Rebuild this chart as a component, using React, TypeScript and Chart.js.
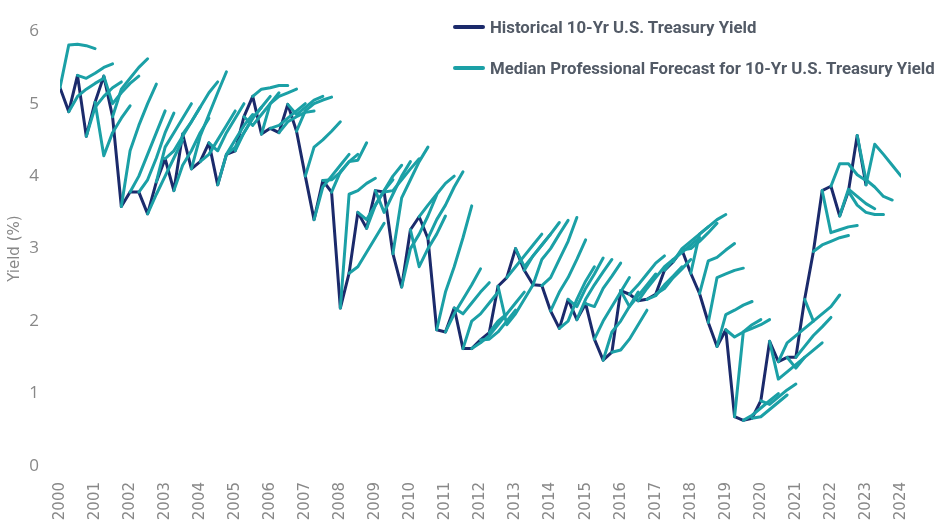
import React, { useEffect, useRef } from "react";
import { Chart, registerables } from "chart.js";

Chart.register(...registerables);

// First historical point is plotted at START_YEAR, one point per quarter.
const START_YEAR = 2000;
const QUARTER_STEP = 0.25;

// Historical 10-Yr U.S. Treasury yield (%), quarterly
const histValues: number[] = [
  5.22, 4.89, 5.39, 4.55, 5.02, 5.38, 4.82, 3.58, 3.78, 3.78,
  3.48, 3.92, 4.24, 3.8, 4.58, 4.1, 4.2, 4.46, 3.88, 4.3,
  4.35, 4.82, 5.1, 4.58, 4.66, 4.6, 4.99, 4.62, 4.0, 3.4,
  3.94, 3.78, 2.18, 2.66, 3.5, 3.28, 3.8, 3.78, 2.93, 2.47,
  3.26, 3.44, 3.14, 1.88, 1.85, 2.18, 1.62, 1.62, 1.74, 1.84,
  2.48, 2.6, 3.0, 2.7, 2.5, 2.49, 2.14, 1.9, 2.3, 2.02,
  2.24, 1.75, 1.46, 1.57, 2.42, 2.37, 2.28, 2.3, 2.37, 2.7,
  2.82, 2.98, 2.66, 2.38, 1.98, 1.65, 1.88, 0.68, 0.63, 0.66,
  0.9, 1.72, 1.44, 1.5, 1.5, 2.3, 2.96, 3.8, 3.86, 3.45,
  3.79, 4.56, 3.88,
];

// Median professional forecasts: row i starts at histValues[i] and
// gives the forecasts for the next four quarters.
const forecastValues: number[][] = [
  [5.81, 5.82, 5.8, 5.76],
  [5.1, 5.2, 5.28, 5.35],
  [5.35, 5.42, 5.5, 5.55],
  [4.95, 5.1, 5.22, 5.3],
  [4.28, 4.6, 4.8, 4.97],
  [5.0, 5.15, 5.28, 5.38],
  [5.2, 5.35, 5.5, 5.62],
  [4.35, 4.7, 5.0, 5.27],
  [4.0, 4.3, 4.6, 4.9],
  [3.95, 4.25, 4.6, 4.87],
  [3.75, 4.0, 4.25, 4.5],
  [4.4, 4.6, 4.8, 5.0],
  [4.35, 4.55, 4.75, 4.95],
  [4.15, 4.35, 4.6, 4.8],
  [4.75, 4.95, 5.15, 5.3],
  [4.55, 4.85, 5.15, 5.44],
  [4.3, 4.5, 4.7, 4.9],
  [4.35, 4.6, 4.8, 5.0],
  [4.3, 4.5, 4.7, 4.85],
  [4.4, 4.6, 4.8, 4.95],
  [4.6, 4.8, 4.95, 5.1],
  [4.7, 4.85, 5.0, 5.15],
  [5.2, 5.22, 5.25, 5.25],
  [5.0, 5.1, 5.15, 5.2],
  [4.7, 4.8, 4.9, 5.0],
  [4.75, 4.82, 4.88, 4.9],
  [4.85, 4.95, 5.05, 5.1],
  [4.9, 5.0, 5.05, 5.09],
  [4.4, 4.5, 4.62, 4.75],
  [3.85, 4.0, 4.15, 4.3],
  [3.95, 4.05, 4.2, 4.3],
  [4.06, 4.2, 4.22, 4.46],
  [3.75, 3.8, 3.9, 3.97],
  [2.75, 2.95, 3.15, 3.35],
  [3.4, 3.6, 3.8, 3.95],
  [3.6, 3.8, 4.0, 4.15],
  [3.5, 3.75, 4.0, 4.2],
  [3.8, 3.95, 4.1, 4.24],
  [3.7, 3.95, 4.2, 4.4],
  [3.0, 3.2, 3.45, 3.74],
  [2.75, 3.0, 3.2, 3.45],
  [3.6, 3.75, 3.9, 4.0],
  [3.4, 3.6, 3.85, 4.06],
  [2.4, 2.75, 3.15, 3.59],
  [2.1, 2.3, 2.5, 2.72],
  [2.1, 2.25, 2.4, 2.53],
  [2.0, 2.1, 2.25, 2.4],
  [1.7, 1.8, 1.95, 2.1],
  [1.75, 1.85, 2.0, 2.15],
  [2.0, 2.1, 2.25, 2.4],
  [1.95, 2.1, 2.3, 2.5],
  [2.75, 2.9, 3.05, 3.2],
  [2.75, 2.9, 3.05, 3.2],
  [2.9, 3.05, 3.2, 3.36],
  [2.85, 3.0, 3.2, 3.39],
  [2.6, 2.85, 3.1, 3.43],
  [2.4, 2.6, 2.85, 3.12],
  [2.0, 2.3, 2.55, 2.75],
  [2.2, 2.45, 2.65, 2.87],
  [2.3, 2.5, 2.68, 2.85],
  [2.2, 2.45, 2.62, 2.8],
  [2.0, 2.2, 2.4, 2.6],
  [1.85, 2.0, 2.2, 2.4],
  [1.6, 1.75, 1.95, 2.15],
  [2.2, 2.35, 2.5, 2.65],
  [2.5, 2.65, 2.8, 2.9],
  [2.45, 2.6, 2.75, 2.85],
  [2.35, 2.5, 2.62, 2.75],
  [2.45, 2.6, 2.72, 2.85],
  [2.85, 2.95, 3.05, 3.15],
  [3.0, 3.1, 3.2, 3.3],
  [3.0, 3.1, 3.22, 3.35],
  [3.2, 3.3, 3.4, 3.47],
  [2.83, 2.88, 2.98, 3.07],
  [2.6, 2.65, 2.7, 2.73],
  [2.09, 2.15, 2.22, 2.27],
  [1.78, 1.85, 1.95, 2.02],
  [1.85, 1.9, 1.95, 2.02],
  [0.7, 0.8, 0.9, 1.0],
  [0.68, 0.78, 0.88, 0.98],
  [0.85, 0.95, 1.05, 1.13],
  [1.2, 1.3, 1.4, 1.5],
  [1.7, 1.8, 1.9, 2.0],
  [1.35, 1.5, 1.6, 1.7],
  [1.65, 1.8, 1.92, 2.05],
  [2.0, 2.1, 2.2, 2.36],
  [3.05, 3.1, 3.15, 3.18],
  [3.22, 3.26, 3.3, 3.32],
  [4.17, 4.17, 4.02, 3.94],
  [3.82, 3.72, 3.62, 3.55],
  [3.6, 3.5, 3.47, 3.47],
  [3.95, 3.85, 3.72, 3.67],
  [4.44, 4.3, 4.15, 4.0],
];

const xAxisYears: number[] = [2000, 2024];
const yAxisRange: number[] = [0, 6];
const yAxisTitle = "Yield (%)";
const legendLabels: string[] = [
  "Historical 10-Yr U.S. Treasury Yield",
  "Median Professional Forecast for 10-Yr U.S. Treasury Yield",
];

const HIST_COLOR = "#1b2a6b";
const FORECAST_COLOR = "#1ba0a6";
const AXIS_TEXT = "#888888";

function quarterX(i: number) {
  return START_YEAR + i * QUARTER_STEP;
}

export default function App() {
  const canvasRef = useRef<HTMLCanvasElement | null>(null);

  useEffect(() => {
    const canvas = canvasRef.current;
    if (!canvas) return;

    const histData = histValues.map((v, i) => ({ x: quarterX(i), y: v }));
    const forecastSets = forecastValues.map((row, i) => ({
      label: i === 0 ? legendLabels[1] : "",
      data: [histValues[i], ...row].map((v, j) => ({ x: quarterX(i + j), y: v })),
      borderColor: FORECAST_COLOR,
      backgroundColor: FORECAST_COLOR,
      borderWidth: 3,
      pointRadius: 0,
      tension: 0,
      fill: false,
      order: 0,
    }));

    const chart = new Chart(canvas, {
      type: "line",
      data: {
        datasets: [
          {
            label: legendLabels[0],
            data: histData,
            borderColor: HIST_COLOR,
            backgroundColor: HIST_COLOR,
            borderWidth: 3,
            pointRadius: 0,
            tension: 0,
            fill: false,
            order: 1,
          },
          ...forecastSets,
        ],
      },
      options: {
        animation: false,
        responsive: false,
        maintainAspectRatio: false,
        devicePixelRatio: 1,
        layout: { padding: { top: 18, right: 14, left: 0, bottom: 0 } },
        plugins: {
          legend: { display: false },
          tooltip: { enabled: false },
        },
        elements: {
          line: { borderCapStyle: "round", borderJoinStyle: "round" },
          point: { radius: 0 },
        },
        scales: {
          x: {
            type: "linear",
            min: xAxisYears[0],
            max: xAxisYears[1],
            grid: { display: false, drawTicks: false },
            border: { display: false },
            ticks: {
              stepSize: 1,
              autoSkip: false,
              minRotation: 90,
              maxRotation: 90,
              padding: 16,
              color: AXIS_TEXT,
              font: { family: "DejaVu Sans", size: 15 },
              callback: (v: any) => String(v),
            },
            afterFit: (s: any) => {
              s.height = 63;
            },
          },
          y: {
            type: "linear",
            min: yAxisRange[0],
            max: yAxisRange[1],
            grid: { display: false, drawTicks: false },
            border: { display: false },
            ticks: {
              stepSize: 1,
              padding: 21,
              color: AXIS_TEXT,
              font: { family: "Open Sans", size: 17 },
            },
            title: {
              display: true,
              text: yAxisTitle,
              color: AXIS_TEXT,
              font: { family: "DejaVu Sans", size: 15 },
              padding: { top: 6, bottom: 0 },
            },
            afterFit: (s: any) => {
              s.width = 60;
            },
          },
        },
      },
    });

    return () => {
      chart.destroy();
    };
  }, []);

  const legendColors = [HIST_COLOR, FORECAST_COLOR];

  return (
    <div
      style={{
        position: "fixed",
        left: 0,
        top: 0,
        width: 935,
        height: 529,
        background: "#ffffff",
        overflow: "hidden",
      }}
    >
      <canvas ref={canvasRef} width={935} height={529} style={{ display: "block" }} />
      <div style={{ position: "absolute", left: 453, top: 13 }}>
        {legendLabels.map((label, i) => (
          <div
            key={label}
            style={{
              display: "flex",
              alignItems: "center",
              height: 28,
              marginBottom: 13,
              whiteSpace: "nowrap",
            }}
          >
            <span
              style={{
                display: "inline-block",
                width: 32,
                height: 4,
                borderRadius: 2,
                background: legendColors[i],
                marginRight: 5,
              }}
            />
            <span
              style={{
                fontFamily: "'Liberation Sans Narrow', 'Roboto', sans-serif",
                fontWeight: 700,
                fontSize: 16.8,
                color: "#525a66",
              }}
            >
              {label}
            </span>
          </div>
        ))}
      </div>
    </div>
  );
}
